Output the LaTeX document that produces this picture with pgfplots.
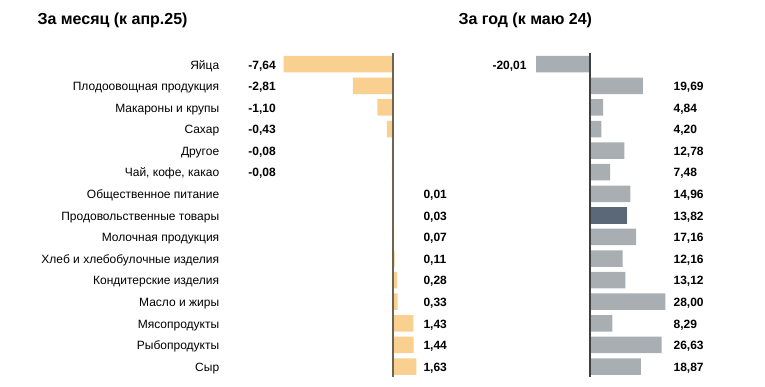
\documentclass[border=0pt]{standalone}
\usepackage{fontspec}
\setmainfont{Liberation Sans}
\usepackage{pgfplots}
\usepackage{pgfplotstable}
\pgfplotsset{compat=1.18}
\definecolor{barL}{HTML}{F9D08F}
\definecolor{barR}{HTML}{A9AEB2}
\definecolor{barD}{HTML}{5B6878}
\definecolor{lineL}{HTML}{6E6453}
\definecolor{lineR}{HTML}{404040}
\newcommand\catfont{\fontsize{12}{14}\selectfont}
\newcommand\valfont{\fontsize{12}{14}\selectfont\bfseries}
\newcommand\titlefont{\fontsize{16}{19}\selectfont\bfseries}

\pgfplotstableread[col sep=semicolon,row sep=\\]{
idx;cat;val;lab\\
0;Яйца;-7.64;-7,64\\
1;Плодоовощная продукция;-2.81;-2,81\\
2;Макароны и крупы;-1.10;-1,10\\
3;Сахар;-0.43;-0,43\\
4;Другое;-0.08;-0,08\\
5;Чай, кофе, какао;-0.08;-0,08\\
6;Общественное питание;0.01;0,01\\
7;Продовольственные товары;0.03;0,03\\
8;Молочная продукция;0.07;0,07\\
9;Хлеб и хлебобулочные изделия;0.11;0,11\\
10;Кондитерские изделия;0.28;0,28\\
11;Масло и жиры;0.33;0,33\\
12;Мясопродукты;1.43;1,43\\
13;Рыбопродукты;1.44;1,44\\
14;Сыр;1.63;1,63\\
}\monthdata

\pgfplotstableread[col sep=semicolon,row sep=\\]{
idx;val;lab\\
0;-20.01;-20,01\\
1;19.69;19,69\\
2;4.84;4,84\\
3;4.20;4,20\\
4;12.78;12,78\\
5;7.48;7,48\\
6;14.96;14,96\\
7;13.82;13,82\\
8;17.16;17,16\\
9;12.16;12,16\\
10;13.12;13,12\\
11;28.00;28,00\\
12;8.29;8,29\\
13;26.63;26,63\\
14;18.87;18,87\\
}\yeardata

\pgfplotsset{panel/.style={
  scale only axis, clip=false, axis on top,
  y dir=reverse, ymin=-0.5, ymax=14.5, height=323.85pt,
  axis x line=none, axis y line=center,
  ytick=\empty, xtick=\empty, enlargelimits=false,
  anchor=south west,
}}
\pgfplotsset{lbl/.style={draw=none, mark=none, point meta=explicit symbolic,
  nodes near coords,
  every node near coord/.style={anchor=#1, inner sep=0pt, text height=8.7pt, text depth=2.5pt, yshift=-1.7pt, font=\valfont, text=black},
}}

\begin{document}
\begin{tikzpicture}
\useasboundingbox (0,0) rectangle (765pt,386pt);
\node[anchor=base west, font=\titlefont, inner sep=0pt] at (37.3pt,361pt) {За месяц (к апр.25)};
\node[anchor=base west, font=\titlefont, inner sep=0pt] at (458.3pt,361pt) {За год (к маю 24)};

\begin{axis}[panel, at={(278.6pt,8.7pt)}, width=143pt, xmin=-8, xmax=2,
  y axis line style={-, draw=lineL, line width=1.3pt}]
\addplot[xbar, bar width=16.5pt, bar shift=0pt, fill=barL, draw=none] table[x=val, y=idx]{\monthdata};
\addplot[lbl=east, skip coords between index={6}{15}] table[x expr=-8.18, y=idx, meta=lab]{\monthdata};
\addplot[lbl=west, skip coords between index={0}{6}] table[x expr=2.12, y=idx, meta=lab]{\monthdata};
\addplot[draw=none, mark=none, point meta=explicit symbolic, nodes near coords,
  every node near coord/.style={anchor=east, inner sep=0pt, text height=8.7pt, text depth=2.5pt, yshift=-1.7pt, font=\catfont, text=black}]
  table[x expr=-12.14, y=idx, meta=cat]{\monthdata};
\end{axis}

\begin{axis}[panel, at={(525.44pt,8.7pt)}, width=145.26pt, xmin=-24, xmax=30,
  y axis line style={-, draw=lineR, line width=1.3pt}]
\addplot[xbar, bar width=16.5pt, bar shift=0pt, fill=barR, draw=none] table[x=val, y=idx]{\yeardata};
\addplot[xbar, bar width=16.5pt, bar shift=0pt, fill=barD, draw=none] coordinates {(13.82,7)};
\addplot[lbl=east, skip coords between index={1}{15}] table[x expr=-23.5, y=idx, meta=lab]{\yeardata};
\addplot[lbl=west, skip coords between index={0}{1}] table[x expr=31.0, y=idx, meta=lab]{\yeardata};
\end{axis}
\end{tikzpicture}
\end{document}
